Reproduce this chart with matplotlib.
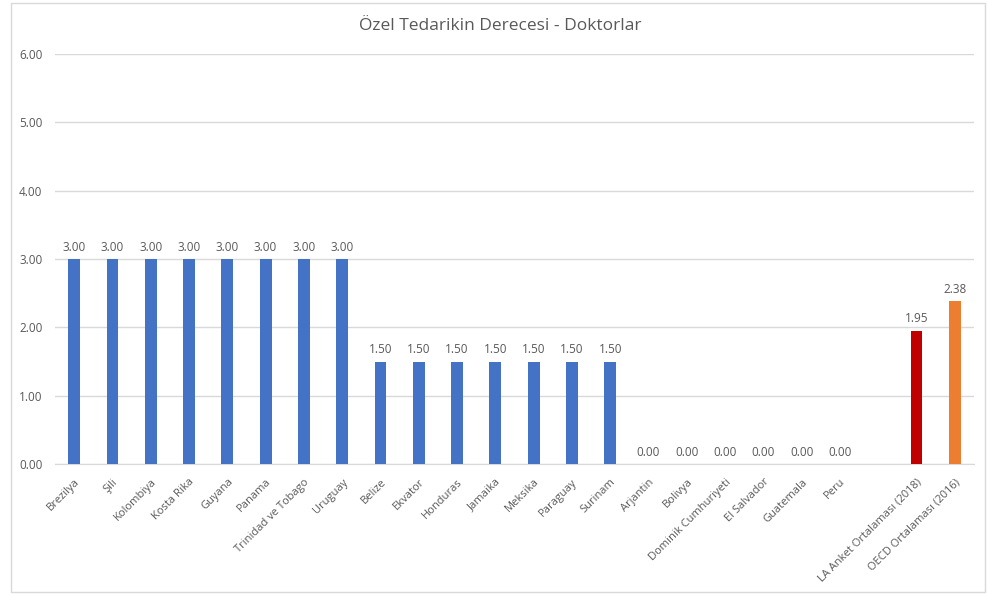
import numpy as np
import matplotlib.pyplot as plt
from matplotlib.patches import Rectangle

plt.rcParams['font.family'] = ['Open Sans', 'DejaVu Sans']

# Scores per country, then a gap, then the two averages
countries = ["Brezilya", "Şili", "Kolombiya", "Kosta Rika", "Guyana", "Panama",
             "Trinidad ve Tobago", "Uruguay", "Belize", "Ekvator", "Honduras",
             "Jamaika", "Meksika", "Paraguay", "Surinam", "Arjantin", "Bolivya",
             "Dominik Cumhuriyeti", "El Salvador", "Guatemala", "Peru"]
country_scores = [3.00, 3.00, 3.00, 3.00, 3.00, 3.00, 3.00, 3.00,
                  1.50, 1.50, 1.50, 1.50, 1.50, 1.50, 1.50,
                  0.00, 0.00, 0.00, 0.00, 0.00, 0.00]
averages = ["LA Anket Ortalaması (2018)", "OECD Ortalaması (2016)"]
average_scores = [1.95, 2.38]

labels = countries + [""] + averages
values = country_scores + [np.nan] + average_scores
colors = ["#4472C4"] * len(countries) + ["none"] + ["#C00000", "#ED7D31"]

fig = plt.figure(figsize=(9.88, 5.94), dpi=100)
fig.patches.append(Rectangle((11 / 988, 2 / 594), 974 / 988, 589 / 594,
                             transform=fig.transFigure, fill=False,
                             edgecolor="#d9d9d9", linewidth=1))
ax = fig.add_axes([55 / 988, 1 - 464 / 594, 919 / 988, 410 / 594])

x = np.arange(len(labels))
ax.bar(x, np.nan_to_num(values), width=0.31, color=colors, zorder=3)

text_color = "#595959"
for xi, v in zip(x, values):
    if np.isnan(v):
        continue
    ax.text(xi, v + 0.08, f"{v:.2f}", ha="center", va="bottom",
            fontsize=8.5, color=text_color)

ax.set_xlim(-0.5, len(labels) - 0.5)
ax.set_ylim(0, 6)
ax.set_yticks(np.arange(0, 7, 1))
ax.set_yticklabels([f"{t:.2f}" for t in range(7)])
ax.grid(axis="y", color="#d9d9d9", linewidth=1, zorder=0)
ax.set_xticks(x)
ax.set_xticklabels(labels, rotation=45, ha="right", rotation_mode="anchor",
                   fontsize=8, color=text_color)
ax.tick_params(axis="y", labelsize=8.5, labelcolor=text_color, length=0, pad=9)
ax.tick_params(axis="x", length=0, pad=9)
for side in ["top", "right", "left"]:
    ax.spines[side].set_visible(False)
ax.spines["bottom"].set_color("#d9d9d9")

fig.text(0.506, 1 - 26 / 594, "Özel Tedarikin Derecesi - Doktorlar",
         ha="center", va="center", fontsize=12.5, color=text_color)

fig.savefig("out.png", dpi=100)
